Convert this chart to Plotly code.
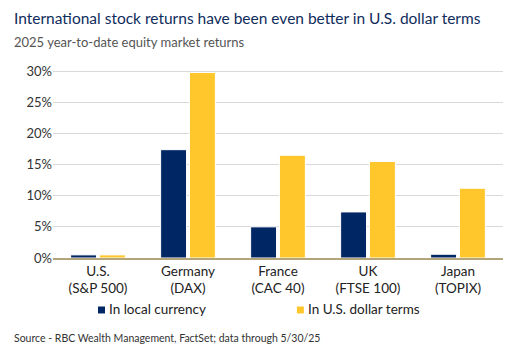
import plotly.graph_objects as go

categories = ["U.S.<br>(S&P 500)", "Germany<br>(DAX)", "France<br>(CAC 40)", "UK<br>(FTSE 100)", "Japan<br>(TOPIX)"]
local_currency = [0.5, 17.4, 5.0, 7.4, 0.6]
usd_terms = [0.5, 29.8, 16.5, 15.5, 11.2]
series_names = ["In local currency", "In U.S. dollar terms"]
y_ticks = [0, 5, 10, 15, 20, 25, 30]
y_tick_labels = [f"{v}%" for v in y_ticks]

NAVY = "#002664"
GOLD = "#FFC72C"
FONT = "Lato, 'Open Sans', sans-serif"

fig = go.Figure()
for name, vals, col in [(series_names[0], local_currency, NAVY), (series_names[1], usd_terms, GOLD)]:
    fig.add_trace(go.Bar(x=categories, y=vals, name=name,
                         marker=dict(color=col, line=dict(color="white", width=1)),
                         showlegend=False, hoverinfo="y+name"))

# Legend drawn as small squares + labels below the plot
legend_x = [0.10, 0.542]  # paper x of each square's left edge
legend_colors = [NAVY, GOLD]
shapes = []
annotations = []
for lx, col, name in zip(legend_x, legend_colors, series_names):
    shapes.append(dict(type="rect", xref="paper", yref="paper", x0=lx, x1=lx + 0.0155,
                       y0=-0.295, y1=-0.258, fillcolor=col, line=dict(width=0)))
    annotations.append(dict(text=name, xref="paper", yref="paper", x=lx + 0.02, y=-0.273,
                            xanchor="left", yanchor="middle", showarrow=False,
                            font=dict(size=13.5, color="#222222", family=FONT)))

annotations += [
    dict(text="International stock returns have been even better in U.S. dollar terms", xref="paper", yref="paper",
         x=-0.091, y=1.0, yshift=52, xanchor="left", yanchor="middle", showarrow=False,
         font=dict(size=15.5, color="#0f2d5c", family=FONT)),
    dict(text="2025 year-to-date equity market returns", xref="paper", yref="paper",
         x=-0.091, y=1.0, yshift=28, xanchor="left", yanchor="middle", showarrow=False,
         font=dict(size=13, color="#555555", family=FONT)),
    dict(text="Source - RBC Wealth Management, FactSet; data through 5/30/25", xref="paper", yref="paper",
         x=-0.091, y=0, yshift=-80, xanchor="left", yanchor="middle", showarrow=False,
         font=dict(size=10.5, color="#333333", family=FONT)),
]

fig.update_layout(
    width=521, height=358,
    margin=dict(l=53, r=18, t=70, b=100),
    paper_bgcolor="white", plot_bgcolor="white",
    font=dict(family=FONT, color="#333333", size=13),
    barmode="group", bargap=0.36, bargroupgap=0.1,
    showlegend=False,
    xaxis=dict(showgrid=False, showline=True, linecolor="#b3a47a", linewidth=1.5,
               ticks="", tickfont=dict(size=13.5, color="#222222"), fixedrange=True, automargin=False),
    yaxis=dict(range=[0, 30.2], tickvals=y_ticks, ticktext=y_tick_labels, showgrid=True,
               gridcolor="#d9d9d9", gridwidth=1, zeroline=False, showline=False,
               tickfont=dict(size=13, color="#333333"), ticks="", fixedrange=True, automargin=False),
    shapes=shapes,
    annotations=annotations,
)

fig.write_html("out.html", config={"displayModeBar": False, "staticPlot": True},
               post_script="document.body.style.margin='0';")
